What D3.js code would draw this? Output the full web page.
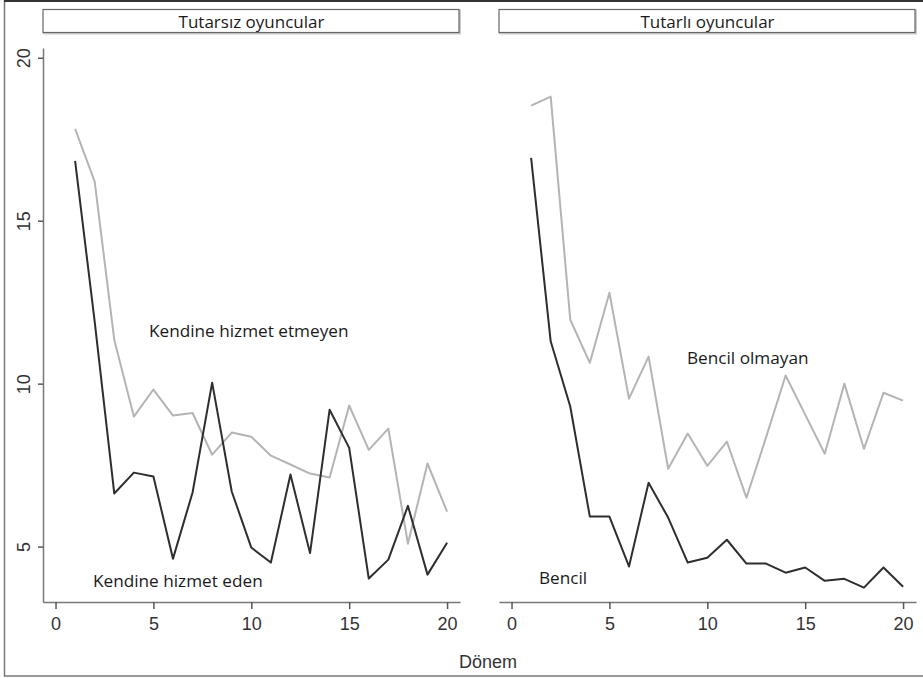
<!DOCTYPE html>
<meta charset="utf-8">
<script src="https://d3js.org/d3.v7.min.js"></script>
<style>
  body { margin: 0; background: #fff; }
  .tick text { font-family: "Liberation Sans", Arial, sans-serif; font-size: 18px; fill: #333; }
  .lbl { font-family: "Open Sans", sans-serif; fill: #1a1a1a; }
</style>
<div id="my_dataviz"></div>
<script>

    // periods (Dönem)
    const periods = d3.range(1, 21)

    // left panel: Tutarsız oyuncular
    const leftSelfServing = [16.84, 11.9, 6.63, 7.27, 7.15, 4.63, 6.66, 10.03, 6.69, 4.97,
                             4.51, 7.21, 4.8, 9.2, 8.03, 4.02, 4.6, 6.25, 4.14, 5.12]
    const leftNotSelfServing = [17.82, 16.2, 11.35, 8.99, 9.82, 9.02, 9.1, 7.82, 8.5, 8.37,
                                7.79, 7.52, 7.24, 7.12, 9.33, 7.97, 8.62, 5.09, 7.55, 6.07]

    // right panel: Tutarlı oyuncular
    const rightSelfish = [16.93, 11.3, 9.3, 5.92, 5.92, 4.39, 6.96, 5.89, 4.51, 4.66,
                          5.21, 4.48, 4.48, 4.2, 4.36, 3.95, 4.01, 3.74, 4.36, 3.77]
    const rightNotSelfish = [18.53, 18.81, 11.96, 10.64, 12.79, 9.54, 10.83, 7.39, 8.47, 7.48,
                             8.22, 6.5, 8.35, 10.25, 9.05, 7.85, 10.0, 8.0, 9.72, 9.48]

    const yTicks = [5, 10, 15, 20]
    const xTicks = [0, 5, 10, 15, 20]

    const width = 923, height = 678

    const svg = d3.select("#my_dataviz")
      .append("svg")
        .attr("width", width)
        .attr("height", height)

    // outer frame
    svg.append("rect")
      .attr("x", 4.5).attr("y", 1).attr("width", 940).attr("height", 675)
      .attr("fill", "none").attr("stroke", "#777").attr("stroke-width", 1.5)
    svg.append("line")
      .attr("x1", 4).attr("x2", 923).attr("y1", 1).attr("y2", 1)
      .attr("stroke", "#333").attr("stroke-width", 2)

    // shared y scale
    const y = d3.scaleLinear().domain([3.3, 20.3]).range([602, 48])

    const panels = [
      { title: "Tutarsız oyuncular", x0: 43, x1: 460, yAxis: true,
        series: [
          { values: leftNotSelfServing, color: "#b4b4b4" },
          { values: leftSelfServing, color: "#2e2e2e" }
        ],
        labels: [
          { text: "Kendine hizmet etmeyen", x: 149, y: 330 },
          { text: "Kendine hizmet eden", x: 93, y: 580 }
        ] },
      { title: "Tutarlı oyuncular", x0: 499, x1: 916, yAxis: false,
        series: [
          { values: rightNotSelfish, color: "#b4b4b4" },
          { values: rightSelfish, color: "#2e2e2e" }
        ],
        labels: [
          { text: "Bencil olmayan", x: 687, y: 357 },
          { text: "Bencil", x: 539, y: 577 }
        ] }
    ]

    panels.forEach(p => {
      const x = d3.scaleLinear().domain([-0.64, 20.66]).range([p.x0, p.x1])

      // header strip
      svg.append("rect")
        .attr("x", p.x0 + 1).attr("y", 10.5).attr("width", p.x1 - p.x0 - 1).attr("height", 23)
        .attr("fill", "none").attr("stroke", "#ccc").attr("stroke-width", 2)
      svg.append("rect")
        .attr("x", p.x0).attr("y", 9.5).attr("width", p.x1 - p.x0 - 1).attr("height", 23)
        .attr("fill", "#fff").attr("stroke", "#666").attr("stroke-width", 1.2)
      svg.append("text")
        .attr("class", "lbl")
        .attr("x", (p.x0 + p.x1) / 2).attr("y", 21)
        .attr("text-anchor", "middle").attr("dominant-baseline", "central")
        .style("font-size", "17px")
        .text(p.title)

      // x axis
      const gx = svg.append("g")
        .attr("transform", `translate(0, 602)`)
        .call(d3.axisBottom(x).tickValues(xTicks).tickSize(7).tickSizeOuter(0).tickPadding(8))
      gx.select(".domain").attr("stroke", "#777").attr("stroke-width", 1.5)
      gx.selectAll(".tick line").attr("stroke", "#555").attr("stroke-width", 1.5)

      // y axis
      if (p.yAxis) {
        const gy = svg.append("g")
          .attr("transform", `translate(${p.x0}, 0)`)
          .call(d3.axisLeft(y).tickValues(yTicks).tickSize(5).tickSizeOuter(0))
        gy.select(".domain").attr("stroke", "#777").attr("stroke-width", 1.5)
        gy.selectAll(".tick line").attr("stroke", "#555").attr("stroke-width", 1.5)
        gy.selectAll(".tick text")
          .attr("x", 0).attr("dy", null)
          .attr("transform", "translate(-19,0) rotate(-90)")
          .attr("text-anchor", "middle")
          .attr("dominant-baseline", "central")
      }

      // lines
      const line = d3.line()
        .x((d, i) => x(periods[i]))
        .y(d => y(d))
      p.series.forEach(s => {
        svg.append("path")
          .datum(s.values)
          .attr("fill", "none")
          .attr("stroke", s.color)
          .attr("stroke-width", 2)
          .attr("stroke-linejoin", "round")
          .attr("d", line)
      })

      // series labels
      p.labels.forEach(l => {
        svg.append("text")
          .attr("class", "lbl")
          .attr("x", l.x).attr("y", l.y)
          .attr("dominant-baseline", "central")
          .style("font-size", "17.2px")
          .text(l.text)
      })
    })

    // x axis title
    svg.append("text")
      .attr("x", 488).attr("y", 662)
      .attr("text-anchor", "middle").attr("dominant-baseline", "central")
      .style("font-family", "Liberation Sans, Arial, sans-serif")
      .style("font-size", "18px").style("fill", "#333")
      .text("Dönem")

</script>
